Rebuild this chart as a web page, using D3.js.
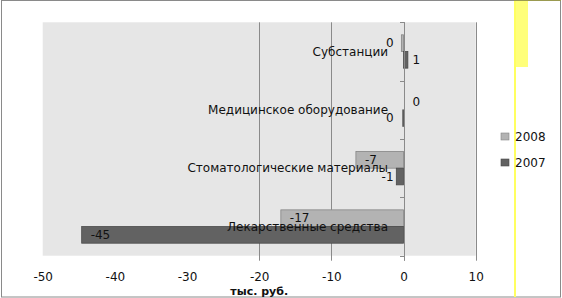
<!DOCTYPE html>
<html><head><meta charset="utf-8">
<script src="https://cdn.jsdelivr.net/npm/d3@7"></script>
<style>
html,body{margin:0;padding:0;background:#fff;}
svg{display:block;font-family:"DejaVu Sans",sans-serif;}
</style></head>
<body><svg id="c" width="562" height="298"></svg>
<script>
const categories = ["Субстанции","Медицинское оборудование","Стоматологические материалы","Лекарственные средства"];
const seriesNames = ["2008","2007"];
const values2008 = [-0.3, 0, -6.6, -17];
const values2007 = [0.6, -0.1, -1, -44.6];
const xTickValues = [-50,-40,-30,-20,-10,0,10];
const gridValues = [-20,-10,0,10];
const axisTitle = "тыс. руб.";
const colors = {"2008":"#b3b3b3","2007":"#626262"};
const strokes = {"2008":"#858585","2007":"#4a4a4a"};

const svg = d3.select("#c");
const plot = {left:42.7, right:475.7, top:22.3, bottom:255.7};
const x = d3.scaleLinear().domain([-50,10]).range([plot.left, plot.right]);
const y = d3.scaleBand().domain(categories).range([plot.top, plot.bottom]).paddingInner(0).paddingOuter(0);
const ys = d3.scaleBand().domain(seriesNames).range([0, y.bandwidth()]).paddingInner(0).paddingOuter(0.75);
const fmt = v => { const r = Math.round(v); return String(r === 0 ? 0 : r); };

// outer border
svg.append("rect").attr("x",1.5).attr("y",0.5).attr("width",559).attr("height",296.5)
  .attr("fill","#fff").attr("stroke","#8a8a8a").attr("stroke-width",1);
svg.append("line").attr("x1",514).attr("x2",561).attr("y1",0.5).attr("y2",0.5).attr("stroke","#9a9a50");

// plot area
svg.append("rect").attr("x",plot.left).attr("y",plot.top)
  .attr("width",plot.right-plot.left).attr("height",plot.bottom-plot.top).attr("fill","#e6e6e6");

// gridlines (extend below plot as ticks)
svg.append("g").selectAll("line").data(gridValues).join("line")
  .attr("x1",d=>Math.round(x(d))+0.5).attr("x2",d=>Math.round(x(d))+0.5)
  .attr("y1",plot.top).attr("y2",plot.bottom+5)
  .attr("stroke","#8a8a8a").attr("stroke-width",1);

// category axis ticks at band boundaries
const x0 = Math.round(x(0))+0.5;
const bounds = categories.map(c=>y(c)).concat([plot.bottom]);
svg.append("g").selectAll("line").data(bounds).join("line")
  .attr("x1",x0-4.5).attr("x2",x0).attr("y1",d=>Math.round(d)+0.5).attr("y2",d=>Math.round(d)+0.5)
  .attr("stroke","#8a8a8a");

// bars
const rows = [];
categories.forEach((c,i)=>{
  rows.push({cat:c, s:"2008", v:values2008[i]});
  rows.push({cat:c, s:"2007", v:values2007[i]});
});
svg.append("g").selectAll("rect").data(rows.filter(d=>d.v!==0)).join("rect")
  .attr("x",d=>Math.min(x(d.v),x(0))).attr("width",d=>Math.abs(x(d.v)-x(0)))
  .attr("y",d=>y(d.cat)+ys(d.s)).attr("height",ys.bandwidth())
  .attr("fill",d=>colors[d.s]).attr("stroke",d=>strokes[d.s]).attr("stroke-width",0.8);

// category labels
svg.append("g").selectAll("text").data(categories).join("text")
  .attr("x",x(0)-15.5).attr("y",d=>y(d)+y.bandwidth()/2).attr("dy","0.35em")
  .attr("text-anchor","end").attr("font-size",12).attr("fill","#111").text(d=>d);

// data labels
svg.append("g").selectAll("text").data(rows).join("text")
  .attr("font-size",12).attr("fill","#111").attr("dy","0.35em")
  .attr("y",d=>y(d.cat)+ys(d.s)+ys.bandwidth()/2)
  .attr("x",d=> Math.abs(d.v)>=5 ? x(d.v)+9 : (d.v<0 ? x(0)-10 : x(0)+9))
  .attr("text-anchor",d=> Math.abs(d.v)>=5 ? "start" : (d.v<0 ? "end" : "start"))
  .text(d=>fmt(d.v));

// category axis line
svg.append("line").attr("x1",x0).attr("x2",x0).attr("y1",plot.top).attr("y2",plot.bottom+5)
  .attr("stroke","#8a8a8a");

// value axis labels
const ax = d3.axisBottom(x).tickValues(xTickValues).tickSize(0).tickPadding(0).tickFormat(d=>String(d));
const g = svg.append("g").attr("transform",`translate(0,${plot.bottom})`).call(ax);
g.select(".domain").remove();
g.selectAll("text").attr("font-size",12).attr("font-family","DejaVu Sans").attr("fill","#111")
  .attr("y",21.3).attr("dy","0.35em");

svg.append("text").attr("x",(plot.left+plot.right)/2).attr("y",291).attr("dy","0.35em")
  .attr("text-anchor","middle").attr("font-size",11).attr("font-weight","bold").attr("fill","#111").text(axisTitle);

// yellow marks
svg.append("rect").attr("x",514).attr("y",1).attr("width",14).attr("height",66).attr("fill","#ffff7a");
svg.append("rect").attr("x",514).attr("y",1).attr("width",2).attr("height",296).attr("fill","#ffff60");

// legend
const leg = svg.append("g").selectAll("g").data(seriesNames).join("g")
  .attr("transform",(d,i)=>`translate(501,${133+i*26})`);
leg.append("rect").attr("width",8).attr("height",7).attr("fill",d=>colors[d]).attr("stroke",d=>strokes[d]).attr("stroke-width",0.6);
leg.append("text").attr("x",14).attr("y",3.5).attr("dy","0.35em").attr("font-size",12).attr("fill","#111").text(d=>d);
</script></body></html>
